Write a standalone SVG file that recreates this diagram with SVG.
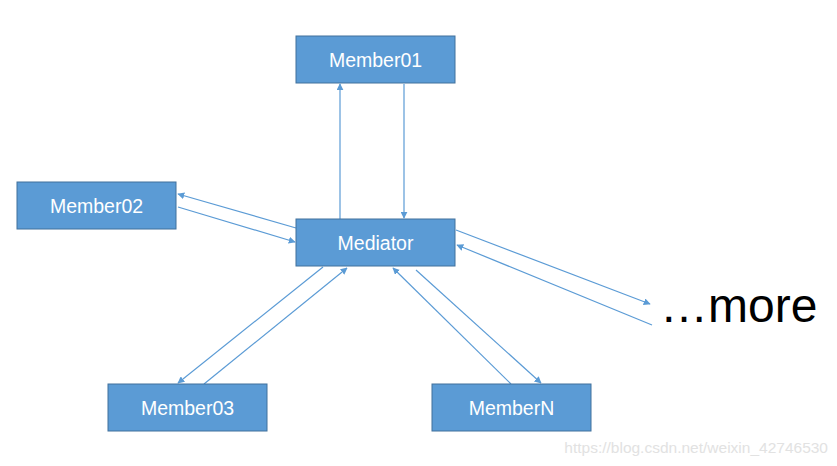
<svg xmlns="http://www.w3.org/2000/svg" width="837" height="466" viewBox="0 0 837 466">
<style>
.box{fill:#5b9bd5;stroke:#41719c;stroke-width:1}
.lbl{fill:#ffffff;font-family:"Liberation Sans",Arial,sans-serif;font-size:19.5px;text-anchor:middle}
.ln{stroke:#5b9bd5;stroke-width:1.2;fill:none;marker-end:url(#ah)}
</style>
<defs>
<marker id="ah" viewBox="0 0 10 10" refX="9" refY="5" markerWidth="7" markerHeight="7" markerUnits="userSpaceOnUse" orient="auto">
<path d="M0,0 L10,5 L0,10 z" fill="#5b9bd5"/>
</marker>
</defs>
<rect width="837" height="466" fill="#ffffff"/>
<g id="connectors">
<line class="ln" x1="340" y1="219" x2="340" y2="84"/>
<line class="ln" x1="404" y1="84" x2="404" y2="218"/>
<line class="ln" x1="296" y1="228" x2="178" y2="194"/>
<line class="ln" x1="178" y1="207" x2="295" y2="242"/>
<line class="ln" x1="456" y1="230" x2="650" y2="304"/>
<line class="ln" x1="652" y1="325" x2="457" y2="245"/>
<line class="ln" x1="323" y1="267" x2="178" y2="383"/>
<line class="ln" x1="204" y1="384" x2="347" y2="268"/>
<line class="ln" x1="511" y1="384" x2="393" y2="268"/>
<line class="ln" x1="416" y1="270" x2="541" y2="383"/>
</g>
<g id="member01">
<rect class="box" x="296" y="36" width="159" height="47"/>
<text class="lbl" x="375.5" y="66.5">Member01</text>
</g>
<g id="mediator">
<rect class="box" x="296" y="219" width="159" height="47"/>
<text class="lbl" x="375.5" y="249.5">Mediator</text>
</g>
<g id="member02">
<rect class="box" x="17" y="182" width="159" height="47"/>
<text class="lbl" x="96.5" y="212.5">Member02</text>
</g>
<g id="member03">
<rect class="box" x="108" y="384" width="159" height="47"/>
<text class="lbl" x="187.5" y="414.5">Member03</text>
</g>
<g id="memberN">
<rect class="box" x="432" y="384" width="159" height="47"/>
<text class="lbl" x="511.5" y="414.5">MemberN</text>
</g>
<g id="more">
<text x="660" y="322" font-family="'Liberation Sans',Arial,sans-serif" font-size="48" fill="#000000">…more</text>
</g>
<text x="828" y="453" font-family="'Liberation Sans',Arial,sans-serif" font-size="15.5" fill="#e2e2e2" text-anchor="end">https://blog.csdn.net/weixin_42746530</text>
</svg>
